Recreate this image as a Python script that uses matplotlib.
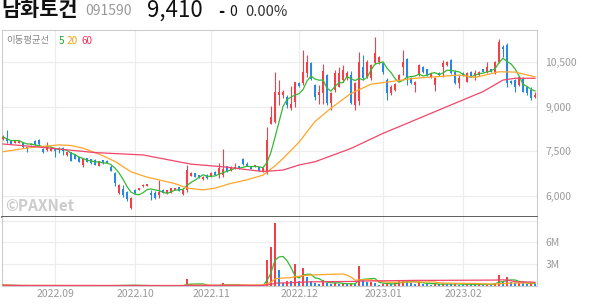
import numpy as np
import pandas as pd
import matplotlib
matplotlib.use('Agg')
import matplotlib.pyplot as plt

plt.rcParams['font.family'] = ['Noto Sans CJK KR', 'DejaVu Sans']

# daily candles, 2022-08-12 .. 2023-02-27 (index = trading day)
opens = [7900, 7930, 7840, 7790, 7780, 7790, 7650, 7710, 7840, 7870,
         7560, 7540, 7520, 7600, 7620, 7600, 7360, 7460, 7390, 7290,
         7030, 7260, 7230, 7200, 7000, 7200, 7170, 6970, 6750, 6090,
         6210, 6130, 5570, 6190, 6190, 6310, 6330, 6100, 6100, 6020,
         6190, 6080, 6100, 6200, 6280, 6050, 6190, 6670, 6750, 6680,
         6550, 6690, 6640, 6800, 6690, 6690, 6980, 6860, 6910, 6990,
         7250, 7070, 7000, 6970, 6950, 6810, 6770, 8420, 8490, 9400,
         9400, 9340, 8960, 9170, 9790, 9790, 10130, 10470, 9730, 9400,
         9450, 10070, 9120, 9560, 9680, 9900, 9960, 10070, 9060, 9200,
         10350, 10010, 9960, 10470, 10500, 10470, 9900, 9450, 9570, 9900,
         10340, 10600, 9960, 9730, 10070, 10350, 10260, 10010, 9730, 10130,
         10350, 10410, 10580, 10180, 9790, 10130, 9850, 10180, 10070, 10070,
         10260, 10180, 10260, 10130, 10520, 11010, 11090, 9880, 9900, 9730,
         9960, 9660, 9560, 9340]
highs = [8040, 8210, 7870, 7880, 7850, 7810, 7680, 7760, 7860, 7900,
         7590, 7820, 7640, 7620, 7630, 7640, 7470, 7470, 7400, 7300,
         7270, 7280, 7240, 7220, 7160, 7210, 7190, 7020, 6800, 6400,
         6360, 6150, 5960, 6220, 6270, 6380, 6400, 6190, 6150, 6520,
         6210, 6200, 6260, 6270, 6300, 6210, 7030, 6780, 6770, 6700,
         6660, 6710, 6790, 6830, 7100, 7560, 7000, 6990, 7110, 7010,
         7270, 7140, 7010, 7040, 6960, 6930, 8320, 9030, 10180, 9900,
         9560, 9400, 9700, 9850, 9850, 10920, 10750, 10500, 9750, 9740,
         10450, 10100, 9500, 10240, 10350, 10400, 10200, 10220, 9850, 10860,
         10750, 10580, 10450, 11360, 10720, 10500, 9960, 9730, 9800, 10100,
         10920, 10650, 10000, 9880, 10450, 10380, 10290, 10150, 9990, 10160,
         10580, 10560, 10620, 10240, 10070, 10160, 10180, 10200, 10240, 10200,
         10290, 10520, 10280, 10550, 11280, 11080, 11160, 9900, 9930, 10030,
         9990, 9680, 9650, 9480]
lows = [7880, 7790, 7740, 7770, 7760, 7610, 7460, 7700, 7690, 7680,
        7430, 7510, 7500, 7300, 7420, 7370, 7340, 7170, 7220, 7130,
        6960, 7130, 7080, 7020, 6990, 7080, 7100, 6820, 6320, 6060,
        5960, 5820, 5560, 6050, 6170, 6290, 6310, 5850, 5870, 5900,
        6080, 6060, 6090, 6190, 6150, 6020, 6130, 6650, 6620, 6600,
        6540, 6570, 6620, 6680, 6580, 6640, 6800, 6840, 6890, 6910,
        7040, 6980, 6900, 6950, 6830, 6790, 6730, 8400, 8450, 9060,
        9300, 8960, 8880, 9000, 9650, 9730, 10020, 9890, 9240, 9080,
        9080, 9060, 8900, 9500, 9650, 9850, 9900, 9080, 8890, 9060,
        9900, 9960, 9900, 10440, 10440, 10120, 9220, 9400, 9540, 9860,
        10070, 9730, 9760, 9510, 10040, 10150, 10040, 9980, 9530, 10040,
        10010, 10380, 10100, 9780, 9620, 10040, 9820, 9990, 9900, 10050,
        10160, 10130, 10160, 10100, 10470, 10690, 9680, 9760, 9510, 9700,
        9500, 9400, 9230, 9300]
closes = [7980, 7840, 7750, 7860, 7840, 7650, 7610, 7740, 7700, 7740,
          7460, 7650, 7620, 7490, 7540, 7500, 7460, 7180, 7230, 7140,
          7260, 7140, 7090, 7030, 7150, 7090, 7110, 6840, 6430, 6350,
          6020, 5870, 5900, 6080, 6260, 6360, 6390, 6020, 5920, 6130,
          6100, 6190, 6250, 6250, 6160, 6190, 6860, 6750, 6640, 6620,
          6640, 6580, 6770, 6690, 6920, 6890, 6840, 6970, 6970, 6920,
          7070, 7000, 6910, 7030, 6840, 6920, 7880, 8660, 9510, 9480,
          9490, 9060, 9090, 9850, 9700, 10180, 10520, 9930, 9340, 9510,
          10220, 9120, 9450, 10130, 10130, 10240, 10130, 9120, 9790, 10520,
          9960, 10520, 10410, 10800, 10680, 10170, 9450, 9680, 9770, 10070,
          10500, 9960, 9790, 9850, 10410, 10180, 10070, 10130, 9960, 10070,
          10470, 10520, 10130, 9810, 9960, 10070, 10150, 10010, 10150, 10180,
          10180, 10350, 10180, 10520, 11200, 10940, 9790, 9790, 9680, 10010,
          9510, 9450, 9280, 9410]
volumes = [120000, 90000, 60000, 50000, 45000, 70000, 80000, 40000, 55000, 60000,
           90000, 70000, 50000, 60000, 40000, 45000, 35000, 70000, 55000, 50000,
           65000, 40000, 45000, 50000, 40000, 45000, 35000, 60000, 110000, 130000,
           90000, 110000, 150000, 70000, 40000, 35000, 30000, 45000, 50000, 80000,
           30000, 25000, 35000, 30000, 40000, 60000, 900000, 280000, 120000, 80000,
           60000, 50000, 45000, 40000, 120000, 450000, 150000, 70000, 60000, 50000,
           90000, 60000, 45000, 40000, 50000, 60000, 3600000, 5400000, 8700000, 2200000,
           450000, 700000, 650000, 3000000, 700000, 2500000, 1200000, 700000, 450000, 250000,
           800000, 450000, 300000, 350000, 300000, 350000, 250000, 300000, 280000, 2800000,
           900000, 550000, 550000, 350000, 200000, 300000, 350000, 250000, 450000, 700000,
           750000, 700000, 350000, 300000, 600000, 300000, 250000, 200000, 300000, 250000,
           350000, 300000, 250000, 300000, 200000, 150000, 300000, 250000, 200000, 250000,
           200000, 300000, 200000, 450000, 1450000, 600000, 1200000, 500000, 400000, 450000,
           350000, 300000, 400000, 250000]

# 20 and 60 day averages at a few days
ma20_idx = [0, 7, 14, 17, 20, 24, 28, 32, 36, 39, 43, 46, 50, 53, 57, 61, 65, 68,
            70, 74, 78, 82, 87, 92, 97, 103, 108, 114, 118, 120, 124, 128, 133]
ma20_val = [7480, 7620, 7710, 7690, 7600, 7400, 7150, 6800, 6620, 6530, 6400, 6250,
            6190, 6250, 6410, 6530, 6690, 7000, 7250, 7800, 8500, 8950, 9450, 9760,
            9850, 9960, 10010, 10070, 9990, 10050, 10180, 10170, 10010]
ma60_idx = [0, 8, 23, 35, 47, 55, 65, 70, 74, 78, 87, 95, 103, 112, 120, 125, 128, 133]
ma60_val = [7740, 7650, 7450, 7370, 7060, 6970, 6810, 6860, 7030, 7140, 7590, 8100,
            8550, 9060, 9510, 9900, 9960, 9960]

month_idx = [13, 33, 52, 74, 95, 115]
month_labels = ['2022.09', '2022.10', '2022.11', '2022.12', '2023.01', '2023.02']
price_ticks = [6000, 7500, 9000, 10500]
vol_ticks = [3e6, 6e6, 9e6]
vol_labels = ['3M', '6M', '']

UP, DOWN = '#f2404b', '#2a86e4'
C5, C20, C60 = '#35b935', '#ffa52a', '#f2456b'
GRID = '#ececec'
W, H = 594, 304


def fx(px):
    return px / W


def fy(py):
    return 1 - py / H


fig = plt.figure(figsize=(W / 100, H / 100), dpi=100)
ax = fig.add_axes([fx(2), fy(217), fx(537) - fx(2), fy(30) - fy(217)])
axv = fig.add_axes([fx(2), fy(286), fx(537) - fx(2), fy(217) - fy(286)], sharex=ax)

x = np.arange(len(closes))
o, c = np.array(opens), np.array(closes)
h, l = np.array(highs), np.array(lows)
col = np.where(c >= o, UP, DOWN)

ax.vlines(x, l, h, colors=col, lw=0.8, zorder=2)
ax.bar(x, np.maximum(np.abs(c - o), 15), bottom=np.minimum(o, c), width=0.72,
       color=col, linewidth=0, zorder=3)

ma5 = pd.Series(closes).rolling(5, min_periods=1).mean()
ax.plot(x, ma5, color=C5, lw=0.9, zorder=4)
ax.plot(ma20_idx, ma20_val, color=C20, lw=0.9, zorder=4)
ax.plot(ma60_idx, ma60_val, color=C60, lw=0.9, zorder=4)

ax.set_xlim(-0.25, 133.5)
ax.set_ylim(5274, 11591)
ax.set_xticks(month_idx)
ax.grid(color=GRID, lw=0.8)
ax.set_axisbelow(True)
ax.tick_params(axis='x', length=0, labelbottom=False)
ax.yaxis.tick_right()
ax.set_yticks(price_ticks)
ax.set_yticklabels([f'{v:,}' for v in price_ticks])
ax.tick_params(axis='y', length=0, pad=6, labelsize=7.5, labelcolor='#999999')
for s in ['left', 'top', 'right']:
    ax.spines[s].set_color('#cccccc')
ax.spines['bottom'].set_color('#444444')
ax.spines['bottom'].set_linewidth(1.2)

# volume pane
vol = np.array(volumes)
prev = np.concatenate([[vol[0]], vol[:-1]])
vcol = np.where(vol >= prev, UP, DOWN)
axv.bar(x, vol, width=0.72, color=vcol, linewidth=0, zorder=2)
for win, cc in [(5, C5), (20, C20), (60, C60)]:
    axv.plot(x, pd.Series(vol).rolling(win, min_periods=1).mean(), color=cc, lw=0.9, zorder=3)
axv.set_ylim(0, 9.5e6)
axv.grid(color=GRID, lw=0.8)
axv.set_axisbelow(True)
axv.yaxis.tick_right()
axv.set_yticks(vol_ticks)
axv.set_yticklabels(vol_labels)
axv.tick_params(axis='y', length=0, pad=6, labelsize=7.5, labelcolor='#999999')
axv.set_xticks(month_idx)
axv.set_xticklabels(month_labels)
axv.tick_params(axis='x', length=0, pad=2, labelsize=7.5, labelcolor='#999999')
axv.spines['top'].set_visible(False)
for s in ['left', 'right', 'bottom']:
    axv.spines[s].set_color('#cccccc')

# header
fig.text(fx(1), fy(10), '남화토건', fontsize=15, fontweight='bold', va='center', color='#111111')
fig.text(fx(85), fy(11), '091590', fontsize=10, va='center', color='#999999')
fig.text(fx(147), fy(10), '9,410', fontsize=16, va='center', color='#111111')
fig.text(fx(218), fy(12), '-', fontsize=12, fontweight='bold', va='center', color='#111111')
fig.text(fx(229), fy(12), '0', fontsize=10, va='center', color='#111111')
fig.text(fx(245), fy(12), '0.00%', fontsize=10.5, va='center', color='#333333')

fig.text(fx(6), fy(41), '이동평균선', fontsize=6.8, va='center', color='#888888')
fig.text(fx(59), fy(41), '5', fontsize=7.2, va='center', color='#22aa22')
fig.text(fx(67), fy(41), '20', fontsize=7.2, va='center', color='#f7a01b')
fig.text(fx(82), fy(41), '60', fontsize=7.2, va='center', color='#f0305a')

fig.text(fx(5), fy(206), '©PAXNet', fontsize=11, fontweight='bold', va='center', color='#cccccc')

fig.savefig('out.png', dpi=100)
